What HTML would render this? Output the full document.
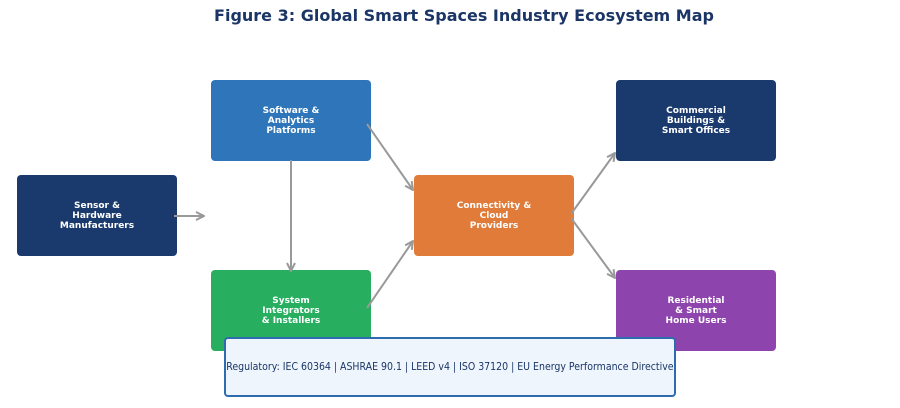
<!DOCTYPE html>
<html><head><meta charset="utf-8"><style>
body{margin:0;width:900px;height:408px;background:#fff;overflow:hidden;position:relative;font-family:"DejaVu Sans","Liberation Sans",sans-serif}
.t{position:absolute;left:14px;width:900px;top:6px;text-align:center;font-weight:bold;font-size:16px;color:#1a3566}
.b{position:absolute;width:160px;height:81px;border-radius:4px;display:flex;align-items:center;justify-content:center;text-align:center;color:#fff;font-weight:bold;font-size:9px;line-height:10px;box-sizing:border-box;padding-top:1px}
.r{position:absolute;left:224px;top:337px;width:452px;height:60px;border:2px solid #2e6cb0;border-radius:4px;background:#eef5fd;box-sizing:border-box;display:flex;align-items:center;justify-content:center;font-size:10.5px;color:#1a3566;white-space:nowrap}
.r span{display:inline-block;transform:scaleX(0.895)}
svg{position:absolute;left:0;top:0}
</style></head><body>
<div class="t">Figure 3: Global Smart Spaces Industry Ecosystem Map</div>
<div class="b" style="left:17px;top:175px;background:#1a3a6e">Sensor &amp;<br>Hardware<br>Manufacturers</div>
<div class="b" style="left:211px;top:80px;background:#2e75b9">Software &amp;<br>Analytics<br>Platforms</div>
<div class="b" style="left:211px;top:270px;background:#27ae5e">System<br>Integrators<br>&amp; Installers</div>
<div class="b" style="left:414px;top:175px;background:#e07b39">Connectivity &amp;<br>Cloud<br>Providers</div>
<div class="b" style="left:616px;top:80px;background:#1a3a6e">Commercial<br>Buildings &amp;<br>Smart Offices</div>
<div class="b" style="left:616px;top:270px;background:#8e44ad">Residential<br>&amp; Smart<br>Home Users</div>
<svg width="900" height="408"><defs><marker id="a" viewBox="0 0 10 10" refX="9" refY="5" markerWidth="5" markerHeight="5" orient="auto"><path d="M1,1 L9,5 L1,9" fill="none" stroke="#999" stroke-width="2"/></marker></defs>
<g stroke="#999" stroke-width="2" fill="none" marker-end="url(#a)">
<line x1="174" y1="216" x2="204" y2="216"/>
<line x1="291" y1="160" x2="291" y2="271"/>
<line x1="367" y1="124" x2="413" y2="190"/>
<line x1="367" y1="308" x2="413" y2="241"/>
<line x1="571" y1="214" x2="615" y2="153"/>
<line x1="571" y1="218" x2="615" y2="278"/>
</g></svg>
<div class="r"><span>Regulatory: IEC 60364 | ASHRAE 90.1 | LEED v4 | ISO 37120 | EU Energy Performance Directive</span></div>
</body></html>
